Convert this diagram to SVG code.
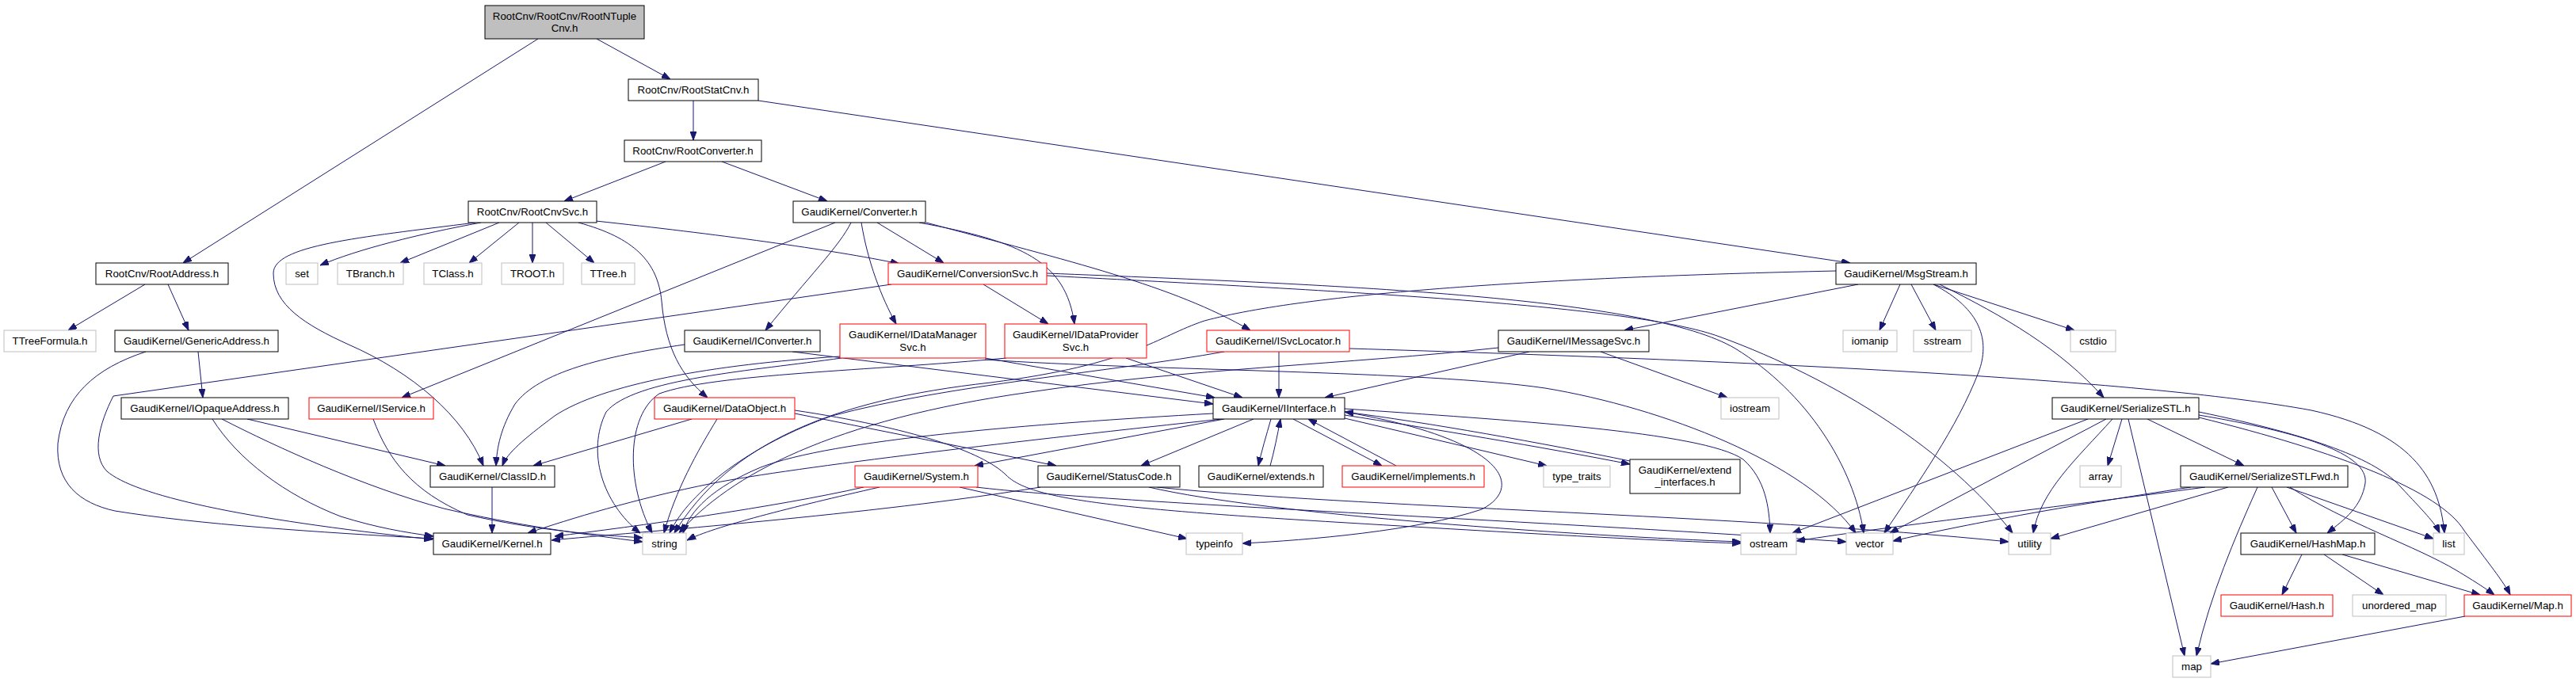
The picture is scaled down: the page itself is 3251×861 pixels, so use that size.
<svg xmlns="http://www.w3.org/2000/svg" width="3251" height="861" viewBox="0 0 3251 861">
<style>
rect{fill:#fff;stroke:#000;stroke-width:1}
rect.r{stroke:#ff0000}
rect.g{stroke:#bfbfbf}
rect.t{fill:#bfbfbf}
text{font-family:"Liberation Sans",Arial,Helvetica,sans-serif;font-size:13.3px;text-anchor:middle;fill:#000}
#edges path{fill:none;stroke:#191970;stroke-width:1;marker-end:url(#a)}
</style>
<defs>
<marker id="a" markerWidth="11" markerHeight="8" refX="11" refY="4" orient="auto" markerUnits="userSpaceOnUse"><path d="M0,0 L11,4 L0,8 z" fill="#191970" stroke="#191970" stroke-width="1"/></marker>
</defs>
<rect x="0" y="0" width="3251" height="861" style="fill:#fff;stroke:none"/>
<g id="edges">
<path d="M679,49 L231,332"/>
<path d="M753,49 L846,100"/>
<path d="M875,127 L875,177"/>
<path d="M957,127 L2335,332"/>
<path d="M840,204 L712,254"/>
<path d="M911,204 L1044,254"/>
<path d="M607,281 C530,295 450,315 404,335"/>
<path d="M630,281 L505,332"/>
<path d="M655,281 L592,332"/>
<path d="M672,281 L672,332"/>
<path d="M689,281 L750,332"/>
<path d="M752,279 C900,295 1050,315 1135,333"/>
<path d="M730,281 C800,300 830,330 835,380 C840,440 860,475 893,502"/>
<path d="M600,281 C450,300 345,310 345,345 C345,385 385,410 440,435 C520,470 585,525 610,588"/>
<path d="M1054,281 L507,502"/>
<path d="M1074,281 C1060,310 1020,350 966,417"/>
<path d="M1087,281 C1095,330 1112,375 1131,409"/>
<path d="M1107,281 L1191,332"/>
<path d="M1160,281 C1290,305 1345,330 1356,409"/>
<path d="M1169,281 C1350,330 1480,360 1578,417"/>
<path d="M1241,359 L1323,409"/>
<path d="M1125,359 L143,500 C125,535 115,575 135,595 C170,625 300,655 546,681"/>
<path d="M1321,345 C1700,360 2080,375 2190,440 C2280,495 2340,590 2352,673"/>
<path d="M1321,348 C1700,368 2060,385 2170,425 C2320,480 2460,570 2540,673"/>
<path d="M2345,359 L2050,417"/>
<path d="M2398,359 L2372,417"/>
<path d="M2412,359 L2443,417"/>
<path d="M2440,359 L2618,417"/>
<path d="M2448,359 C2530,400 2600,440 2655,502"/>
<path d="M2440,359 C2500,390 2512,430 2497,470 C2470,540 2420,610 2378,673"/>
<path d="M2317,342 C1950,350 1650,370 1520,405 C1460,425 1430,460 1250,483 C1050,505 920,560 851,673"/>
<path d="M1930,444 L1672,502"/>
<path d="M2020,444 L2180,502"/>
<path d="M1891,439 C1700,460 1500,465 1300,495 C1050,530 920,600 857,673"/>
<path d="M1614,444 L1614,502"/>
<path d="M1703,440 C2200,455 2700,478 2917,518 C3040,545 3078,600 3085,673"/>
<path d="M1545,444 C1400,470 1200,485 1050,525 C950,560 870,620 845,673"/>
<path d="M864,435 C760,450 680,470 650,510 C632,540 627,565 626,588"/>
<path d="M1000,444 L1531,510"/>
<path d="M1060,450 C900,460 760,485 700,525 C660,555 640,572 634,588"/>
<path d="M1062,452 C950,468 800,478 765,520 C740,570 760,635 808,673"/>
<path d="M1243,452 L1533,502"/>
<path d="M1270,452 C1100,468 900,472 832,497 C790,525 790,610 823,673"/>
<path d="M1421,452 L1568,502"/>
<path d="M1243,454 C1450,468 1800,468 1950,490 C2100,515 2280,585 2342,673"/>
<path d="M873,529 L673,588"/>
<path d="M905,529 C880,570 852,620 838,673"/>
<path d="M1003,522 L1333,588"/>
<path d="M1003,518 C1150,540 1240,570 1270,600 C1300,630 1400,642 1700,660 C1950,675 2100,683 2197,686"/>
<path d="M1545,529 L1230,588"/>
<path d="M1582,529 L1440,588"/>
<path d="M1604,529 C1598,550 1592,570 1588,588"/>
<path d="M1603,588 C1608,570 1612,550 1616,529"/>
<path d="M1632,529 L1744,588"/>
<path d="M1762,588 L1651,529"/>
<path d="M1697,528 L1952,588"/>
<path d="M1697,524 C1800,540 1950,565 2057,586"/>
<path d="M2057,582 C1950,560 1800,533 1697,520"/>
<path d="M1697,516 C1900,530 2150,545 2200,580 C2228,605 2233,640 2234,673"/>
<path d="M1697,520 C1900,555 1925,615 1870,643 C1790,670 1650,682 1568,686"/>
<path d="M1542,529 C1300,555 1000,590 900,610 C800,630 720,655 666,673"/>
<path d="M1531,522 C1300,535 1050,555 960,590 C900,615 870,645 862,673"/>
<path d="M1090,615 C980,640 800,665 700,677"/>
<path d="M1110,615 C1000,640 900,665 867,682"/>
<path d="M1211,615 L1498,680"/>
<path d="M1232,615 C1400,635 1900,655 2330,684"/>
<path d="M1313,615 C1100,650 800,672 696,682"/>
<path d="M1450,615 C1600,650 2000,677 2197,684"/>
<path d="M1460,615 C1700,640 2200,650 2535,684"/>
<path d="M621,615 L621,673"/>
<path d="M312,529 L562,588"/>
<path d="M268,529 C300,580 360,625 430,652 C475,666 510,672 547,677"/>
<path d="M280,529 C350,565 460,615 560,642 C650,663 740,675 811,684"/>
<path d="M471,529 C490,580 520,620 590,650 C680,670 750,675 811,679"/>
<path d="M250,444 L256,502"/>
<path d="M184,444 C120,465 80,500 73,560 C70,610 100,635 145,645 C250,662 400,672 547,680"/>
<path d="M183,359 L86,417"/>
<path d="M212,359 L238,417"/>
<path d="M2635,529 L2262,673"/>
<path d="M2658,529 L2385,673"/>
<path d="M2666,529 C2620,580 2575,620 2566,673"/>
<path d="M2678,529 L2660,588"/>
<path d="M2686,529 L2757,828"/>
<path d="M2710,529 L2832,588"/>
<path d="M2775,524 C2900,545 2990,572 2985,610 C2980,640 2960,655 2937,673"/>
<path d="M2775,520 C2920,550 3000,580 3030,615 C3058,645 3073,660 3079,673"/>
<path d="M2775,527 C2950,570 3080,620 3110,670 C3140,710 3160,735 3168,751"/>
<path d="M2783,615 C2600,640 2400,662 2267,683"/>
<path d="M2765,615 C2600,640 2480,662 2389,683"/>
<path d="M2812,615 L2588,680"/>
<path d="M2849,615 C2820,680 2790,750 2772,828"/>
<path d="M2867,615 L2898,673"/>
<path d="M2886,615 L3071,680"/>
<path d="M2890,615 C2960,660 3050,690 3100,720 C3125,735 3140,745 3148,751"/>
<path d="M2905,700 L2880,751"/>
<path d="M2933,700 L3008,751"/>
<path d="M2956,700 L3130,751"/>
<path d="M3111,778 L2790,838"/>
</g>
<g id="n_top"><rect class="t" x="612" y="7" width="201" height="42"/><text x="712.5" y="24.5">RootCnv/RootCnv/RootNTuple</text><text x="712.5" y="40">Cnv.h</text></g>
<g id="n_statcnv"><rect x="793" y="100" width="164" height="27"/><text x="875" y="118">RootCnv/RootStatCnv.h</text></g>
<g id="n_rconv"><rect x="788" y="177" width="173" height="27"/><text x="874.5" y="195">RootCnv/RootConverter.h</text></g>
<g id="n_cnvsvc"><rect x="591" y="254" width="162" height="27"/><text x="672" y="272">RootCnv/RootCnvSvc.h</text></g>
<g id="n_conv"><rect x="1001" y="254" width="167" height="27"/><text x="1084.5" y="272">GaudiKernel/Converter.h</text></g>
<g id="n_raddr"><rect x="121" y="332" width="167" height="27"/><text x="204.5" y="350">RootCnv/RootAddress.h</text></g>
<g id="n_set"><rect class="g" x="361" y="332" width="40" height="27"/><text x="381" y="350">set</text></g>
<g id="n_tbranch"><rect class="g" x="426" y="332" width="83" height="27"/><text x="467.5" y="350">TBranch.h</text></g>
<g id="n_tclass"><rect class="g" x="535" y="332" width="73" height="27"/><text x="571.5" y="350">TClass.h</text></g>
<g id="n_troot"><rect class="g" x="633" y="332" width="78" height="27"/><text x="672" y="350">TROOT.h</text></g>
<g id="n_ttree"><rect class="g" x="734" y="332" width="67" height="27"/><text x="767.5" y="350">TTree.h</text></g>
<g id="n_convsvc"><rect class="r" x="1121" y="332" width="200" height="27"/><text x="1221" y="350">GaudiKernel/ConversionSvc.h</text></g>
<g id="n_msg"><rect x="2317" y="332" width="177" height="27"/><text x="2405.5" y="350">GaudiKernel/MsgStream.h</text></g>
<g id="n_tformula"><rect class="g" x="5" y="417" width="116" height="27"/><text x="63" y="435">TTreeFormula.h</text></g>
<g id="n_generic"><rect x="145" y="417" width="206" height="27"/><text x="248" y="435">GaudiKernel/GenericAddress.h</text></g>
<g id="n_iconv"><rect x="864" y="417" width="171" height="27"/><text x="949.5" y="435">GaudiKernel/IConverter.h</text></g>
<g id="n_idm"><rect class="r" x="1060" y="409" width="184" height="43"/><text x="1152" y="427">GaudiKernel/IDataManager</text><text x="1152" y="443">Svc.h</text></g>
<g id="n_idp"><rect class="r" x="1268" y="409" width="179" height="43"/><text x="1357.5" y="427">GaudiKernel/IDataProvider</text><text x="1357.5" y="443">Svc.h</text></g>
<g id="n_isl"><rect class="r" x="1523" y="417" width="180" height="27"/><text x="1613" y="435">GaudiKernel/ISvcLocator.h</text></g>
<g id="n_imsg"><rect x="1891" y="417" width="190" height="27"/><text x="1986" y="435">GaudiKernel/IMessageSvc.h</text></g>
<g id="n_iomanip"><rect class="g" x="2326" y="417" width="68" height="27"/><text x="2360" y="435">iomanip</text></g>
<g id="n_sstream"><rect class="g" x="2415" y="417" width="73" height="27"/><text x="2451.5" y="435">sstream</text></g>
<g id="n_cstdio"><rect class="g" x="2613" y="417" width="57" height="27"/><text x="2641.5" y="435">cstdio</text></g>
<g id="n_iopaque"><rect x="153" y="502" width="211" height="27"/><text x="258.5" y="520">GaudiKernel/IOpaqueAddress.h</text></g>
<g id="n_iservice"><rect class="r" x="390" y="502" width="157" height="27"/><text x="468.5" y="520">GaudiKernel/IService.h</text></g>
<g id="n_dataobj"><rect class="r" x="826" y="502" width="177" height="27"/><text x="914.5" y="520">GaudiKernel/DataObject.h</text></g>
<g id="n_iint"><rect x="1531" y="502" width="166" height="27"/><text x="1614" y="520">GaudiKernel/IInterface.h</text></g>
<g id="n_iostream"><rect class="g" x="2172" y="502" width="73" height="27"/><text x="2208.5" y="520">iostream</text></g>
<g id="n_sstl"><rect x="2590" y="502" width="185" height="27"/><text x="2682.5" y="520">GaudiKernel/SerializeSTL.h</text></g>
<g id="n_classid"><rect x="543" y="588" width="157" height="27"/><text x="621.5" y="606">GaudiKernel/ClassID.h</text></g>
<g id="n_system"><rect class="r" x="1079" y="588" width="155" height="27"/><text x="1156.5" y="606">GaudiKernel/System.h</text></g>
<g id="n_status"><rect x="1310" y="588" width="179" height="27"/><text x="1399.5" y="606">GaudiKernel/StatusCode.h</text></g>
<g id="n_extends"><rect x="1513" y="588" width="157" height="27"/><text x="1591.5" y="606">GaudiKernel/extends.h</text></g>
<g id="n_impl"><rect class="r" x="1694" y="588" width="179" height="27"/><text x="1783.5" y="606">GaudiKernel/implements.h</text></g>
<g id="n_ttraits"><rect class="g" x="1948" y="588" width="84" height="27"/><text x="1990" y="606">type_traits</text></g>
<g id="n_extif"><rect x="2057" y="580" width="139" height="43"/><text x="2126.5" y="597.5">GaudiKernel/extend</text><text x="2126.5" y="613">_interfaces.h</text></g>
<g id="n_array"><rect class="g" x="2625" y="588" width="52" height="27"/><text x="2651" y="606">array</text></g>
<g id="n_fwd"><rect x="2752" y="588" width="211" height="27"/><text x="2857.5" y="606">GaudiKernel/SerializeSTLFwd.h</text></g>
<g id="n_kernel"><rect x="547" y="673" width="148" height="27"/><text x="621" y="691">GaudiKernel/Kernel.h</text></g>
<g id="n_string"><rect class="g" x="811" y="673" width="55" height="27"/><text x="838.5" y="691">string</text></g>
<g id="n_typeinfo"><rect class="g" x="1497" y="673" width="71" height="27"/><text x="1532.5" y="691">typeinfo</text></g>
<g id="n_ostream"><rect class="g" x="2197" y="673" width="70" height="27"/><text x="2232" y="691">ostream</text></g>
<g id="n_vector"><rect class="g" x="2330" y="673" width="59" height="27"/><text x="2359.5" y="691">vector</text></g>
<g id="n_utility"><rect class="g" x="2535" y="673" width="53" height="27"/><text x="2561.5" y="691">utility</text></g>
<g id="n_hashmap"><rect x="2828" y="673" width="169" height="27"/><text x="2912.5" y="691">GaudiKernel/HashMap.h</text></g>
<g id="n_list"><rect class="g" x="3071" y="673" width="39" height="27"/><text x="3090.5" y="691">list</text></g>
<g id="n_hash"><rect class="r" x="2803" y="751" width="141" height="27"/><text x="2873.5" y="769">GaudiKernel/Hash.h</text></g>
<g id="n_umap"><rect class="g" x="2969" y="751" width="118" height="27"/><text x="3028" y="769">unordered_map</text></g>
<g id="n_map"><rect class="r" x="3110" y="751" width="135" height="27"/><text x="3177.5" y="769">GaudiKernel/Map.h</text></g>
<g id="n_mapstd"><rect class="g" x="2742" y="828" width="48" height="27"/><text x="2766" y="846">map</text></g>
</svg>
